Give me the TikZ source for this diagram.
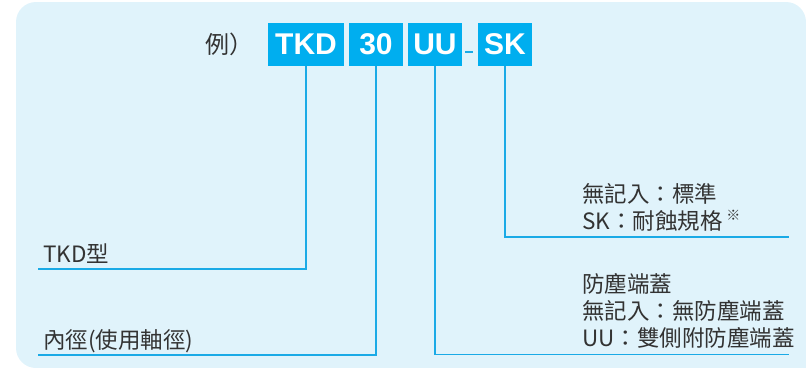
\documentclass[tikz,border=0pt]{standalone}
\usepackage{fontspec}
\setmainfont{Liberation Sans}
\newfontfamily\cjk{Noto Sans CJK TC}
\newfontfamily\boxfont{Liberation Sans}
\definecolor{bgc}{HTML}{E0F3FB}
\definecolor{cyanbox}{HTML}{00AEEF}
\definecolor{linec}{HTML}{1AAAE6}
\definecolor{txt}{HTML}{333333}
\tikzset{
  codebox/.style={fill=cyanbox, text=white, inner sep=0pt, minimum height=42.5pt, font=\boxfont\bfseries\fontsize{30}{30}\selectfont},
  lbl/.style={text=txt, inner sep=0pt, font=\cjk\fontsize{22.5}{22.5}\selectfont, anchor=base west},
  leader/.style={draw=linec, line width=1.6pt}
}
\begin{document}
\begin{tikzpicture}[x=1pt,y=-1pt]
\useasboundingbox (0,0) rectangle (806,367);
\fill[bgc] (16,200) [rounded corners=20pt] -- (16,2) -- (806,2) [sharp corners] -- (806,368) [rounded corners=20pt] -- (16,368) [sharp corners] -- (16,200) -- cycle;
% code boxes
\node[codebox, minimum width=76pt] (tkd) at (306,44.5) {TKD};
\node[codebox, minimum width=53.7pt] (n30) at (376,44.5) {30};
\node[codebox, minimum width=53.4pt] (uu) at (435,44.5) {UU};
\node[codebox, minimum width=54pt] (sk) at (505,44.5) {SK};
\coordinate (d1) at (465,51.7);
\coordinate (d2) at (473,51.7);
\draw[linec, line width=1.6pt] (d1) -- (d2);
\node[text=txt, inner sep=0pt, font=\cjk\fontsize{24}{24}\selectfont, anchor=west] (ex) at (205,44) {例）};
% corner coordinates
\coordinate (ctkd) at (306,269);
\coordinate (c30) at (376,355);
\coordinate (cuu) at (435,354.3);
\coordinate (csk) at (505,236.7);
\coordinate (ltkd) at (37.7,269);
\coordinate (l30) at (37.7,355);
\coordinate (ruu) at (789,354.3);
\coordinate (rsk) at (789,236.7);
\draw[leader] (tkd.south) -- (ctkd) -- (ltkd);
\draw[leader] (n30.south) -- (c30) -- (l30);
\draw[leader] (uu.south) -- (cuu) -- (ruu);
\draw[leader] (sk.south) -- (csk) -- (rsk);
% labels
\node[lbl] (t1) at (43,262) {TKD型};
\node[lbl] (t2) at (43,348) {內徑(使用軸徑)};
\node[lbl] (s1) at (582,202) {無記入：標準};
\node[lbl] (s2) at (582,229) {SK：耐蝕規格\,\raisebox{0.4em}{\fontsize{14}{14}\selectfont ※}};
\node[lbl] (u1) at (582,292) {防塵端蓋};
\node[lbl] (u2) at (582,319) {無記入：無防塵端蓋};
\node[lbl] (u3) at (582,346) {UU：雙側附防塵端蓋};
\end{tikzpicture}
\end{document}
